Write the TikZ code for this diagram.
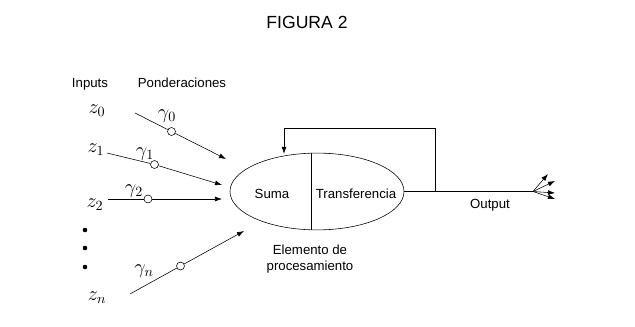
\documentclass[tikz,border=0pt]{standalone}
\usepackage{fontspec}
\setmainfont{Liberation Sans}
\usetikzlibrary{arrows.meta,shapes.geometric,calc}
\tikzset{
  weight/.style={draw, circle, inner sep=0pt, minimum size=0.2cm},
  conn/.style={-{Latex[length=5pt,width=3.5pt]}},
  lbl/.style={font=\fontsize{9.4}{11}\selectfont},
  inp/.style={font=\Large},
  wlbl/.style={font=\Large},
}
\begin{document}
\begin{tikzpicture}[x=0.025cm, y=-0.025cm, >=Latex]
\useasboundingbox (0,0) rectangle (635,327);
% title and column headings
\node[font=\fontsize{12.5}{14}\selectfont] (title) at (307,22) {FIGURA 2};
\node[lbl] (inputs) at (90,84) {Inputs};
\node[lbl] (ponder) at (182,83) {Ponderaciones};
% inputs
\node[inp] (z0) at (97,111) {$z_0$};
\node[inp] (z1) at (96,150) {$z_1$};
\node[inp] (z2) at (95,205) {$z_2$};
\node[inp] (zn) at (97,298) {$z_n$};
\foreach \yy in {230,248,267} \fill (85,\yy) circle (2.3);
% processing element
\node[draw, ellipse, minimum width=4.35cm, minimum height=1.92cm, inner sep=0pt] (elem) at (317,191.5) {};
\draw ($(elem.north)+(-6,0)$) -- ($(elem.south)+(-6,0)$);
\node[lbl] (suma) at (272,194) {Suma};
\node[lbl] (transf) at (356,194) {Transferencia};
\node[lbl, align=center] (elemlbl) at (310,259) {Elemento de\\procesamiento};
% weights
\node[weight] (w0) at (171.5,131.5) {};
\node[weight] (w1) at (154.5,164.5) {};
\node[weight] (w2) at (148,199) {};
\node[weight] (wn) at (180.5,266) {};
\node[wlbl] (g0) at (167,116) {$\gamma_0$};
\node[wlbl] (g1) at (145,154) {$\gamma_1$};
\node[wlbl] (g2) at (134,191) {$\gamma_2$};
\node[wlbl] (gn) at (144,271) {$\gamma_n$};
\coordinate (s0) at (135,113);   \coordinate (e0) at (226,159);
\coordinate (s1) at (107,153);   \coordinate (e1) at (222,185);
\coordinate (s2) at (108,199);   \coordinate (e2) at (222,199);
\coordinate (sn) at (130,294);   \coordinate (en) at (244,231);
\draw (s0) -- (w0); \draw[conn] (w0) -- (e0);
\draw (s1) -- (w1); \draw[conn] (w1) -- (e1);
\draw (s2) -- (w2); \draw[conn] (w2) -- (e2);
\draw (sn) -- (wn); \draw[conn] (wn) -- (en);
% output and feedback
\coordinate (fb) at (435,191.5);
\coordinate (fan) at (533,191.5);
\draw (elem.east) -- (fan);
\draw[conn] (fb) |- (284,128.5) -- ($(elem.north)+(-33,1)$);
\node[lbl] (out) at (490,205) {Output};
\foreach \tx/\ty in {548/174, 555/181, 555/193, 555/199}
  \draw[conn] (fan) -- (\tx,\ty);
\end{tikzpicture}
\end{document}
